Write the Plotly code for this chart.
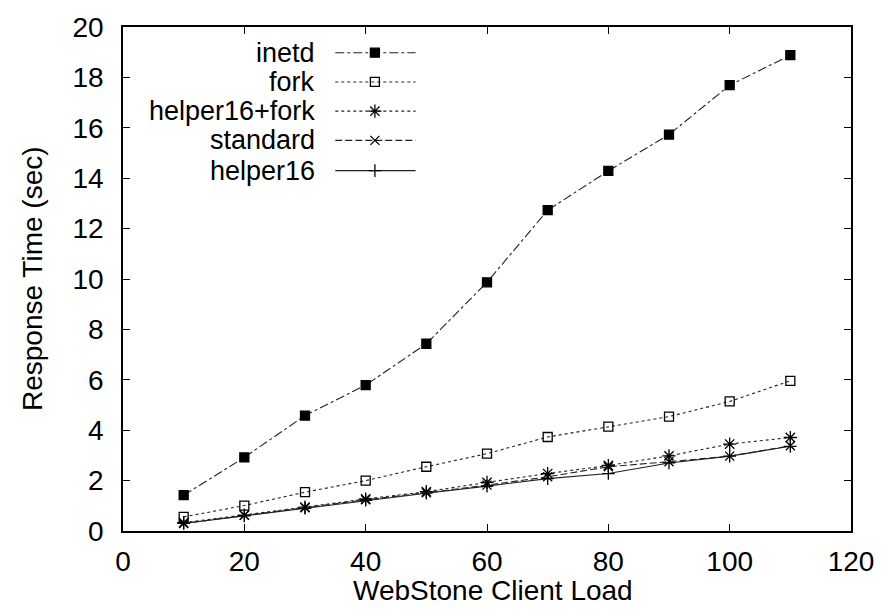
import plotly.graph_objects as go

# WebStone client load (x) and mean response time in seconds per server variant
load = [10, 20, 30, 40, 50, 60, 70, 80, 90, 100, 110]
inetd = [1.42, 2.92, 4.58, 5.79, 7.43, 9.87, 12.73, 14.29, 15.73, 17.69, 18.88]
fork = [0.56, 1.01, 1.54, 2.00, 2.55, 3.07, 3.73, 4.14, 4.54, 5.14, 5.96]
helper16_fork = [0.33, 0.63, 0.95, 1.27, 1.56, 1.93, 2.28, 2.60, 2.98, 3.45, 3.71]
standard = [0.30, 0.62, 0.92, 1.24, 1.52, 1.82, 2.15, 2.55, 2.75, 2.97, 3.38]
helper16 = [0.30, 0.60, 0.90, 1.22, 1.50, 1.78, 2.08, 2.28, 2.70, 2.97, 3.36]

x_ticks = [0, 20, 40, 60, 80, 100, 120]
y_ticks = [0, 2, 4, 6, 8, 10, 12, 14, 16, 18, 20]

FONT = "Liberation Sans, Arial, Helvetica, sans-serif"
INK = "#000000"
LINE = "#222222"
TXT = 28

series = [
    ("inetd", inetd, "dashdot", "square", 9),
    ("fork", fork, "dot", "square-open", 9),
    ("helper16+fork", helper16_fork, "3px,3px", "asterisk-open", 11),
    ("standard", standard, "7px,3px", "x-thin-open", 9),
    ("helper16", helper16, "solid", "cross-thin-open", 9),
]

fig = go.Figure()

for name, vals, dash, sym, size in series:
    fig.add_trace(go.Scatter(
        x=load, y=vals, mode="lines+markers", name=name, showlegend=False,
        line=dict(color=LINE, width=1.1, dash=dash),
        marker=dict(symbol=sym, size=size, color=INK,
                    line=dict(color=INK, width=1.3)),
    ))

# Key drawn on an overlay axis in plot-area fractions, text to the left of the sample
key_x0, key_x1, key_mid = 0.2916, 0.4019, 0.346
key_rows = [0.949, 0.891, 0.833, 0.775, 0.715]
for (name, vals, dash, sym, size), ky in zip(series, key_rows):
    fig.add_trace(go.Scatter(
        x=[key_x0, key_x1], y=[ky, ky], xaxis="x2", yaxis="y2", mode="lines",
        showlegend=False, hoverinfo="skip",
        line=dict(color=LINE, width=1.1, dash=dash),
    ))
    fig.add_trace(go.Scatter(
        x=[key_mid], y=[ky], xaxis="x2", yaxis="y2", mode="markers",
        showlegend=False, hoverinfo="skip",
        marker=dict(symbol=sym, size=size, color=INK,
                    line=dict(color=INK, width=1.3)),
    ))
    fig.add_annotation(
        x=0.2657, y=ky, xref="paper", yref="paper", text=name,
        showarrow=False, xanchor="right", yanchor="middle", borderpad=0,
        font=dict(family=FONT, size=27, color=INK),
    )

# Axis titles
fig.add_annotation(
    x=0.508, y=-0.118, xref="paper", yref="paper", text="WebStone Client Load",
    showarrow=False, xanchor="center", yanchor="middle",
    font=dict(family=FONT, size=TXT, color=INK),
)
fig.add_annotation(
    x=-0.125, y=0.5, xref="paper", yref="paper", text="Response Time (sec)",
    showarrow=False, xanchor="center", yanchor="middle", textangle=-90,
    font=dict(family=FONT, size=TXT, color=INK),
)

axis_common = dict(
    showgrid=False, zeroline=False, showline=True, linecolor=INK, linewidth=1.6,
    mirror="ticks", ticks="inside", ticklen=7, tickwidth=1, tickcolor=INK,
    tickfont=dict(family=FONT, size=TXT, color=INK),
)

fig.update_layout(
    width=886, height=611,
    margin=dict(l=123, r=29, t=17, b=80),
    paper_bgcolor="white", plot_bgcolor="white",
    showlegend=False,
    xaxis=dict(range=[0, 120], tickvals=x_ticks, ticklabelstandoff=5,
               **axis_common),
    yaxis=dict(range=[0, 20], tickvals=y_ticks, ticklabelstandoff=12,
               **axis_common),
    xaxis2=dict(overlaying="x", range=[0, 1], visible=False, fixedrange=True),
    yaxis2=dict(overlaying="y", range=[0, 1], visible=False, fixedrange=True),
)

fig.write_html("out.html")
